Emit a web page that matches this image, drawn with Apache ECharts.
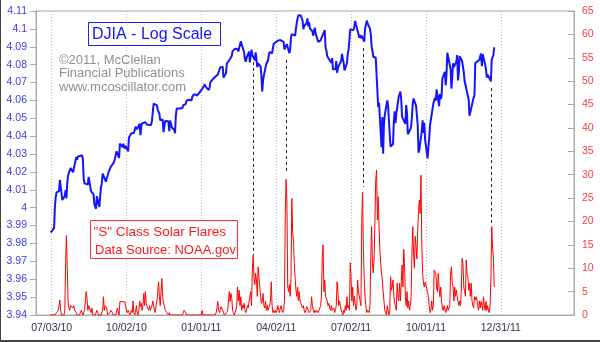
<!DOCTYPE html>
<html>
<head>
<meta charset="utf-8">
<script src="https://cdn.jsdelivr.net/npm/echarts@6/dist/echarts.min.js"></script>
<style>
  html, body { margin: 0; padding: 0; background: #ffffff; }
  #chart { width: 600px; height: 342px; }
</style>
</head>
<body>
<div id="chart"></div>
<script>
// ---- x axis: one category per calendar day, labelled every 13 weeks ----
const xStart = '2010-06-14';
const xEnd = '2012-03-29';
const xTickLabels = ['07/03/10', '10/02/10', '01/01/11', '04/02/11', '07/02/11', '10/01/11', '12/31/11'];

// ---- y axes: [min, max, step] ----
const djiaAxisRange = [3.94, 4.11, 0.01];
const flareAxisRange = [0, 65, 5];

// ---- DJIA daily closes (plotted as log10) ----
const djiaCloses = [
  ['2010-07-02', 9686], ['2010-07-06', 9744], ['2010-07-07', 10018], ['2010-07-08', 10139], ['2010-07-09', 10198], ['2010-07-12', 10216], ['2010-07-13', 10364], ['2010-07-14', 10366], ['2010-07-15', 10360], ['2010-07-16', 10098], ['2010-07-19', 10155], ['2010-07-20', 10230], ['2010-07-21', 10121], ['2010-07-22', 10323], ['2010-07-23', 10425], ['2010-07-26', 10525], ['2010-07-27', 10538], ['2010-07-28', 10498], ['2010-07-29', 10468], ['2010-07-30', 10466],
  ['2010-08-02', 10674], ['2010-08-03', 10636], ['2010-08-04', 10680], ['2010-08-05', 10675], ['2010-08-06', 10653], ['2010-08-09', 10699], ['2010-08-10', 10644], ['2010-08-11', 10378], ['2010-08-12', 10320], ['2010-08-13', 10303], ['2010-08-16', 10302], ['2010-08-17', 10406], ['2010-08-18', 10416], ['2010-08-19', 10271], ['2010-08-20', 10214], ['2010-08-23', 10174], ['2010-08-24', 10041], ['2010-08-25', 10060], ['2010-08-26', 9986], ['2010-08-27', 10150], ['2010-08-30', 10010], ['2010-08-31', 10015],
  ['2010-09-01', 10270], ['2010-09-02', 10321], ['2010-09-03', 10448], ['2010-09-07', 10341], ['2010-09-08', 10388], ['2010-09-09', 10416], ['2010-09-10', 10462], ['2010-09-13', 10544], ['2010-09-14', 10527], ['2010-09-15', 10573], ['2010-09-16', 10595], ['2010-09-17', 10608], ['2010-09-20', 10754], ['2010-09-21', 10762], ['2010-09-22', 10739], ['2010-09-23', 10662], ['2010-09-24', 10860], ['2010-09-27', 10812], ['2010-09-28', 10858], ['2010-09-29', 10836], ['2010-09-30', 10788],
  ['2010-10-01', 10830], ['2010-10-04', 10752], ['2010-10-05', 10945], ['2010-10-06', 10968], ['2010-10-07', 10948], ['2010-10-08', 11006], ['2010-10-11', 11011], ['2010-10-12', 11021], ['2010-10-13', 11097], ['2010-10-14', 11095], ['2010-10-15', 11063], ['2010-10-18', 11144], ['2010-10-19', 10979], ['2010-10-20', 11108], ['2010-10-21', 11147], ['2010-10-22', 11133], ['2010-10-25', 11164], ['2010-10-26', 11170], ['2010-10-27', 11127], ['2010-10-28', 11127], ['2010-10-29', 11118],
  ['2010-11-01', 11125], ['2010-11-02', 11189], ['2010-11-03', 11216], ['2010-11-04', 11434], ['2010-11-05', 11445], ['2010-11-08', 11407], ['2010-11-09', 11347], ['2010-11-10', 11358], ['2010-11-11', 11283], ['2010-11-12', 11193], ['2010-11-15', 11202], ['2010-11-16', 11023], ['2010-11-17', 11008], ['2010-11-18', 11181], ['2010-11-19', 11204], ['2010-11-22', 11178], ['2010-11-23', 11036], ['2010-11-24', 11188], ['2010-11-26', 11092], ['2010-11-29', 11052], ['2010-11-30', 11006],
  ['2010-12-01', 11256], ['2010-12-02', 11362], ['2010-12-03', 11382], ['2010-12-06', 11362], ['2010-12-07', 11359], ['2010-12-08', 11372], ['2010-12-09', 11370], ['2010-12-10', 11410], ['2010-12-13', 11428], ['2010-12-14', 11476], ['2010-12-15', 11457], ['2010-12-16', 11500], ['2010-12-17', 11492], ['2010-12-20', 11478], ['2010-12-21', 11534], ['2010-12-22', 11560], ['2010-12-23', 11574], ['2010-12-27', 11555], ['2010-12-28', 11575], ['2010-12-29', 11585], ['2010-12-30', 11570], ['2010-12-31', 11578],
  ['2011-01-03', 11671], ['2011-01-04', 11692], ['2011-01-05', 11722], ['2011-01-06', 11697], ['2011-01-07', 11675], ['2011-01-10', 11637], ['2011-01-11', 11671], ['2011-01-12', 11755], ['2011-01-13', 11732], ['2011-01-14', 11787], ['2011-01-18', 11837], ['2011-01-19', 11825], ['2011-01-20', 11823], ['2011-01-21', 11872], ['2011-01-24', 11980], ['2011-01-25', 11977], ['2011-01-26', 11985], ['2011-01-27', 11990], ['2011-01-28', 11824], ['2011-01-31', 11892],
  ['2011-02-01', 12040], ['2011-02-02', 12041], ['2011-02-03', 12062], ['2011-02-04', 12092], ['2011-02-07', 12161], ['2011-02-08', 12234], ['2011-02-09', 12240], ['2011-02-10', 12229], ['2011-02-11', 12273], ['2011-02-14', 12268], ['2011-02-15', 12227], ['2011-02-16', 12288], ['2011-02-17', 12318], ['2011-02-18', 12391], ['2011-02-22', 12213], ['2011-02-23', 12106], ['2011-02-24', 12068], ['2011-02-25', 12130], ['2011-02-28', 12226],
  ['2011-03-01', 12058], ['2011-03-02', 12066], ['2011-03-03', 12258], ['2011-03-04', 12170], ['2011-03-07', 12090], ['2011-03-08', 12214], ['2011-03-09', 12214], ['2011-03-10', 11985], ['2011-03-11', 12044], ['2011-03-14', 11993], ['2011-03-15', 11855], ['2011-03-16', 11613], ['2011-03-17', 11775], ['2011-03-18', 11858], ['2011-03-21', 12037], ['2011-03-22', 12018], ['2011-03-23', 12086], ['2011-03-24', 12171], ['2011-03-25', 12221], ['2011-03-28', 12198], ['2011-03-29', 12280], ['2011-03-30', 12350], ['2011-03-31', 12320],
  ['2011-04-01', 12377], ['2011-04-04', 12400], ['2011-04-05', 12394], ['2011-04-06', 12427], ['2011-04-07', 12410], ['2011-04-08', 12380], ['2011-04-11', 12381], ['2011-04-12', 12263], ['2011-04-13', 12271], ['2011-04-14', 12286], ['2011-04-15', 12342], ['2011-04-18', 12202], ['2011-04-19', 12267], ['2011-04-20', 12453], ['2011-04-21', 12506], ['2011-04-25', 12480], ['2011-04-26', 12595], ['2011-04-27', 12691], ['2011-04-28', 12764], ['2011-04-29', 12811],
  ['2011-05-02', 12808], ['2011-05-03', 12807], ['2011-05-04', 12724], ['2011-05-05', 12584], ['2011-05-06', 12638], ['2011-05-09', 12685], ['2011-05-10', 12761], ['2011-05-11', 12630], ['2011-05-12', 12696], ['2011-05-13', 12596], ['2011-05-16', 12549], ['2011-05-17', 12479], ['2011-05-18', 12561], ['2011-05-19', 12606], ['2011-05-20', 12512], ['2011-05-23', 12381], ['2011-05-24', 12357], ['2011-05-25', 12395], ['2011-05-26', 12403], ['2011-05-27', 12442], ['2011-05-31', 12570],
  ['2011-06-01', 12290], ['2011-06-02', 12248], ['2011-06-03', 12152], ['2011-06-06', 12090], ['2011-06-07', 12071], ['2011-06-08', 12049], ['2011-06-09', 12125], ['2011-06-10', 11952], ['2011-06-13', 11953], ['2011-06-14', 12077], ['2011-06-15', 11898], ['2011-06-16', 11962], ['2011-06-17', 12004], ['2011-06-20', 12081], ['2011-06-21', 12191], ['2011-06-22', 12110], ['2011-06-23', 12051], ['2011-06-24', 11934], ['2011-06-27', 12044], ['2011-06-28', 12188], ['2011-06-29', 12262], ['2011-06-30', 12414],
  ['2011-07-01', 12582], ['2011-07-05', 12569], ['2011-07-06', 12626], ['2011-07-07', 12719], ['2011-07-08', 12657], ['2011-07-11', 12505], ['2011-07-12', 12447], ['2011-07-13', 12492], ['2011-07-14', 12437], ['2011-07-15', 12480], ['2011-07-18', 12385], ['2011-07-19', 12587], ['2011-07-20', 12572], ['2011-07-21', 12724], ['2011-07-22', 12681], ['2011-07-25', 12593], ['2011-07-26', 12502], ['2011-07-27', 12303], ['2011-07-28', 12240], ['2011-07-29', 12143],
  ['2011-08-01', 12133], ['2011-08-02', 11867], ['2011-08-03', 11897], ['2011-08-04', 11384], ['2011-08-05', 11445], ['2011-08-08', 10810], ['2011-08-09', 11240], ['2011-08-10', 10720], ['2011-08-11', 11144], ['2011-08-12', 11270], ['2011-08-15', 11483], ['2011-08-16', 11406], ['2011-08-17', 11411], ['2011-08-18', 10991], ['2011-08-19', 10818], ['2011-08-22', 10855], ['2011-08-23', 11177], ['2011-08-24', 11321], ['2011-08-25', 11150], ['2011-08-26', 11285], ['2011-08-29', 11540], ['2011-08-30', 11560], ['2011-08-31', 11614],
  ['2011-09-01', 11494], ['2011-09-02', 11240], ['2011-09-06', 11140], ['2011-09-07', 11415], ['2011-09-08', 11296], ['2011-09-09', 10993], ['2011-09-12', 11062], ['2011-09-13', 11106], ['2011-09-14', 11247], ['2011-09-15', 11434], ['2011-09-16', 11510], ['2011-09-19', 11402], ['2011-09-20', 11408], ['2011-09-21', 11125], ['2011-09-22', 10734], ['2011-09-23', 10772], ['2011-09-26', 11044], ['2011-09-27', 11191], ['2011-09-28', 11011], ['2011-09-29', 11154], ['2011-09-30', 10913],
  ['2011-10-03', 10655], ['2011-10-04', 10809], ['2011-10-05', 10940], ['2011-10-06', 11124], ['2011-10-07', 11103], ['2011-10-10', 11434], ['2011-10-11', 11416], ['2011-10-12', 11519], ['2011-10-13', 11479], ['2011-10-14', 11644], ['2011-10-17', 11397], ['2011-10-18', 11577], ['2011-10-19', 11505], ['2011-10-20', 11542], ['2011-10-21', 11809], ['2011-10-24', 11913], ['2011-10-25', 11707], ['2011-10-26', 11870], ['2011-10-27', 12209], ['2011-10-28', 12232], ['2011-10-31', 11955],
  ['2011-11-01', 11658], ['2011-11-02', 11836], ['2011-11-03', 12044], ['2011-11-04', 11983], ['2011-11-07', 12069], ['2011-11-08', 12171], ['2011-11-09', 11781], ['2011-11-10', 11894], ['2011-11-11', 12154], ['2011-11-14', 12079], ['2011-11-15', 12096], ['2011-11-16', 11906], ['2011-11-17', 11771], ['2011-11-18', 11796], ['2011-11-21', 11548], ['2011-11-22', 11494], ['2011-11-23', 11258], ['2011-11-25', 11231], ['2011-11-28', 11524], ['2011-11-29', 11556], ['2011-11-30', 12046],
  ['2011-12-01', 12021], ['2011-12-02', 12019], ['2011-12-05', 12098], ['2011-12-06', 12151], ['2011-12-07', 12196], ['2011-12-08', 11997], ['2011-12-09', 12185], ['2011-12-12', 12022], ['2011-12-13', 11955], ['2011-12-14', 11824], ['2011-12-15', 11869], ['2011-12-16', 11867], ['2011-12-19', 11766], ['2011-12-20', 12104], ['2011-12-21', 12108], ['2011-12-22', 12169], ['2011-12-23', 12295]
];

// ---- "S" class solar flares per day, one row per month ----
const flareMonths = ['2010-07', '2010-08', '2010-09', '2010-10', '2010-11', '2010-12',
                     '2011-01', '2011-02', '2011-03', '2011-04', '2011-05', '2011-06',
                     '2011-07', '2011-08', '2011-09', '2011-10', '2011-11', '2011-12'];
const flareValues = [
  [0, 0, 0, 0, 0, 0, 0, 0, 0.5, 0.5, 1, 1.9, 3.2, 1, 0, 0, 0, 0, 1, 11, 17, 10, 3, 1.5, 1, 2, 2, 2, 1.5, 2, 1],
  [1, 0.5, 0, 0, 0, 0, 0.5, 1, 0.5, 0, 0, 1, 3, 5, 3.6, 1, 2, 1.5, 1, 0.5, 1.5, 0, 0, 0, 0, 0, 1, 0.5, 0, 0, 0],
  [0, 0, 1, 3.9, 1, 2, 2.1, 1.5, 0, 0, 0, 0.5, 1, 1, 0.5, 0, 0, 0, 0, 1, 1.5, 0.7, 0, 2.9, 3.2, 2.5, 2.8, 2.9, 2.8, 2.8],
  [2, 1, 0.5, 1, 0.5, 0, 0.5, 1, 0.5, 3, 0.5, 0, 0.5, 2, 0.5, 0, 1, 3, 1.8, 2.5, 1, 2, 4.6, 2, 5, 2.5, 1.8, 1.8, 1, 2, 1],
  [1.5, 2, 3, 2, 1, 0.5, 2, 3, 5, 7.1, 4, 2, 5, 7.8, 4, 2.5, 2, 1, 1, 0.5, 0.5, 0, 0.5, 0, 0, 0, 0, 0, 0, 0],
  [0, 0, 0, 0, 0, 0, 0, 0, 0, 0, 1, 1, 0.5, 0, 0, 0, 0, 0, 0, 0, 0, 0, 0, 0, 0, 0, 0, 0, 0, 0, 0],
  [0, 1, 0, 0, 0, 0, 0, 0, 0, 0, 0, 0, 0, 0, 0, 0, 0, 0, 0.5, 1.5, 2.9, 1, 0.5, 1.2, 1.8, 1.5, 1.8, 0.5, 0, 0, 0],
  [0.5, 1, 3, 5, 2.9, 4.6, 3.6, 1, 0.5, 0, 0.5, 1, 2, 6, 3, 5.3, 2, 3.9, 1, 2, 1.5, 2.5, 1, 0.5, 1, 2, 1.5, 2.9],
  [3.2, 5, 2, 9.6, 12.8, 8, 6.5, 8.9, 7.5, 4, 10.3, 8.2, 6, 3.9, 2.5, 3, 4.6, 2, 1.5, 3, 1, 2, 1, 1, 2, 3, 7.1, 2, 0.5, 1, 0.5],
  [1, 0.5, 1, 2, 1, 0.5, 1.5, 2, 1, 0.5, 1, 3, 21.4, 29, 24.2, 6, 5, 6.5, 4, 8, 24.9, 17.8, 16, 11, 8, 5.3, 4, 6, 3, 5],
  [3, 2.5, 2, 1.5, 2, 1, 0.5, 1, 1.8, 2, 1, 0.5, 0.5, 1, 3.9, 2, 1, 0.5, 1, 0.5, 1, 1, 0.5, 1, 1.5, 2, 4, 12.5, 15, 5, 7.5],
  [4, 3.9, 3, 2, 2.5, 1.5, 1, 2, 1, 1, 1.5, 0.5, 1, 2, 7.1, 5, 2, 3, 2, 1, 0.5, 0, 1, 0.5, 2, 1, 3.9, 1.5, 2, 1],
  [11.2, 7.5, 3, 6, 2, 4, 2.5, 1, 2, 7.5, 5, 5.3, 3, 2, 19.6, 26.2, 14, 7.8, 3.9, 2, 0.5, 1, 1, 0.5, 2, 12.5, 18.9, 11, 9, 12, 20],
  [28.9, 31, 20.3, 25.3, 18.9, 13.9, 11, 9, 7.5, 5, 3, 1, 0.5, 0, 2, 1, 0, 0.5, 8.2, 5.3, 6, 7.5, 4, 2.5, 2, 1, 6.8, 4, 3, 6.8, 3],
  [3, 10.7, 6, 14, 11, 4, 2, 5, 1.5, 3, 1, 2, 4, 13.2, 18.9, 13, 10, 16.8, 14.6, 12, 18, 22.4, 24.6, 21.7, 29.9, 14.6, 8.9, 6.8, 6, 7],
  [7, 6.8, 5, 4, 2, 0.5, 1, 3, 1, 2, 9.6, 10, 8.9, 6, 5, 8.9, 5.7, 3.9, 6, 3, 1.5, 1, 2, 1.8, 0.5, 1, 2, 1, 1.5, 2, 8.9],
  [10.3, 7, 6, 3, 6, 4, 5.3, 3.9, 4, 2, 3, 2, 5, 12.1, 11, 6, 5, 4, 11.8, 8.9, 8.2, 5.3, 6.8, 4, 6.8, 3, 2, 1.5, 3.9, 3.2],
  [3.9, 3.2, 2, 1, 3, 1.5, 2.9, 2.1, 1, 3.9, 2, 1, 2.9, 1, 2, 1, 0.5, 2, 8, 18.9, 14.3, 12.5, 6]
];

// ---- dashed guides from a DJIA dip down to a flare burst ----
const guideDates = ['2011-03-05', '2011-04-14', '2011-07-16', '2011-12-19'];
const guideDjiaEnd = [4.0815, 4.0826, 4.0893, 4.0669];
const guideFlareEnd = [12.8, 30.3, 27.4, 19.7];

// ---- helpers ----
const DAY = 86400000;
function dayList(a, b) {
  const out = [];
  let t = Date.parse(a + 'T00:00:00Z');
  const end = Date.parse(b + 'T00:00:00Z');
  while (t <= end) { out.push(new Date(t).toISOString().slice(0, 10)); t += DAY; }
  return out;
}
function mdy(iso) { return iso.slice(5, 7) + '/' + iso.slice(8, 10) + '/' + iso.slice(2, 4); }
function pad(n) { return n < 10 ? '0' + n : '' + n; }

const categories = dayList(xStart, xEnd);
const isTick = (idx, val) => xTickLabels.indexOf(mdy(val)) >= 0;

const djiaSeries = djiaCloses.map(d => [d[0], Math.log10(d[1])]);
const flareSeries = [];
flareMonths.forEach((m, i) => {
  flareValues[i].forEach((v, k) => flareSeries.push([m + '-' + pad(k + 1), v]));
});

const FONT = 'Arial, "Liberation Sans", sans-serif';
const AXIS_GRAY = '#a9a9a9';

const chart = echarts.init(document.getElementById('chart'), null, { renderer: 'canvas' });

chart.setOption({
  animation: false,
  backgroundColor: '#ffffff',
  grid: {
    left: 36, right: 26, top: 11, bottom: 27,
    containLabel: false, outerBoundsMode: 'none',
    show: true, backgroundColor: '#ffffff', borderColor: AXIS_GRAY, borderWidth: 1
  },
  xAxis: {
    type: 'category',
    data: categories,
    boundaryGap: false,
    axisLine: { show: true, lineStyle: { color: AXIS_GRAY, width: 1 } },
    axisTick: { show: false },
    axisLabel: {
      interval: isTick,
      formatter: v => mdy(v),
      color: '#2f2f4a', fontFamily: FONT, fontSize: 10.5, margin: 8
    },
    splitLine: { show: true, interval: isTick, lineStyle: { color: '#bdbdbd', width: 1, type: [1, 2] } }
  },
  yAxis: [
    {
      type: 'value', position: 'left',
      min: djiaAxisRange[0], max: djiaAxisRange[1], interval: djiaAxisRange[2],
      axisLine: { show: true, lineStyle: { color: AXIS_GRAY } },
      axisTick: { show: true, inside: false, length: 6, lineStyle: { color: AXIS_GRAY } },
      axisLabel: { color: '#3b3be6', fontFamily: FONT, fontSize: 10.5, margin: 9 },
      splitLine: { show: false }
    },
    {
      type: 'value', position: 'right',
      min: flareAxisRange[0], max: flareAxisRange[1], interval: flareAxisRange[2],
      axisLine: { show: true, lineStyle: { color: AXIS_GRAY } },
      axisTick: { show: true, inside: true, length: 6, lineStyle: { color: AXIS_GRAY } },
      axisLabel: { color: '#ff3b3b', fontFamily: FONT, fontSize: 10.5, margin: 8 },
      splitLine: { show: false }
    }
  ],
  series: [
    {
      name: 'Solar Flares', type: 'line', xAxisIndex: 0, yAxisIndex: 1,
      data: flareSeries, symbol: 'none', silent: true, z: 2,
      lineStyle: { color: '#ff0000', width: 1 }
    },
    {
      name: 'DJIA', type: 'line', xAxisIndex: 0, yAxisIndex: 0,
      data: djiaSeries, symbol: 'none', silent: true, z: 3,
      lineStyle: { color: '#1414ff', width: 2 }
    }
  ]
});

// annotation boxes, captions and dashed guides
const guides = guideDates.map((d, i) => {
  const xi = categories.indexOf(d);
  const top = chart.convertToPixel({ xAxisIndex: 0, yAxisIndex: 0 }, [xi, guideDjiaEnd[i]]);
  const bot = chart.convertToPixel({ xAxisIndex: 0, yAxisIndex: 1 }, [xi, guideFlareEnd[i]]);
  const x = Math.round(top[0]) + 0.5;
  return {
    type: 'line', silent: true, z: 10,
    shape: { x1: x, y1: top[1], x2: x, y2: bot[1] },
    style: { stroke: '#222222', lineWidth: 1, lineDash: [3, 3] }
  };
});

chart.setOption({
  graphic: [
    // frame edges
    { type: 'line', silent: true, z: 20, shape: { x1: 0.5, y1: 0, x2: 0.5, y2: 342 }, style: { stroke: '#444', lineWidth: 1 } },
    { type: 'line', silent: true, z: 20, shape: { x1: 0, y1: 341, x2: 600, y2: 341 }, style: { stroke: '#444', lineWidth: 2 } },
    // title box
    { type: 'rect', silent: true, z: 10, shape: { x: 88.5, y: 22.5, width: 132, height: 23 },
      style: { fill: '#ffffff', stroke: '#1f1fff', lineWidth: 1 } },
    { type: 'text', silent: true, z: 11, x: 92, y: 34.5,
      style: { text: 'DJIA - Log Scale', fill: '#1414ff', font: '16px ' + FONT, verticalAlign: 'middle' } },
    // credit lines
    { type: 'text', silent: true, z: 11, x: 59, y: 60,
      style: { text: '\u00A92011, McClellan', fill: '#8f8f8f', font: '13px ' + FONT, verticalAlign: 'middle' } },
    { type: 'text', silent: true, z: 11, x: 59, y: 73.5,
      style: { text: 'Financial Publications', fill: '#8f8f8f', font: '13px ' + FONT, verticalAlign: 'middle' } },
    { type: 'text', silent: true, z: 11, x: 59, y: 87.5,
      style: { text: 'www.mcoscillator.com', fill: '#8f8f8f', font: '13px ' + FONT, verticalAlign: 'middle' } },
    // solar flare box
    { type: 'rect', silent: true, z: 10, shape: { x: 90.5, y: 220.5, width: 147, height: 38 },
      style: { fill: '#ffffff', stroke: '#ff3030', lineWidth: 1 } },
    { type: 'text', silent: true, z: 11, x: 93.5, y: 232,
      style: { text: '"S" Class Solar Flares', fill: '#ff1a1a', font: '13.5px ' + FONT, verticalAlign: 'middle' } },
    { type: 'text', silent: true, z: 11, x: 95, y: 250,
      style: { text: 'Data Source: NOAA.gov', fill: '#ff1a1a', font: '13px ' + FONT, verticalAlign: 'middle' } }
  ].concat(guides)
});
</script>
</body>
</html>
